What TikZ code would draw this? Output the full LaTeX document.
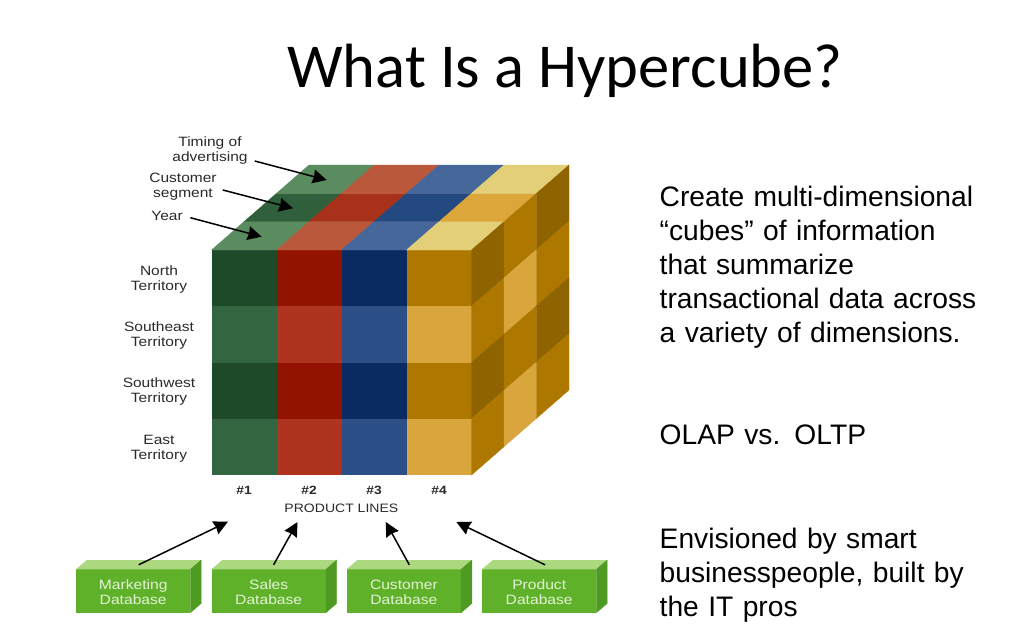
\documentclass[tikz,border=0pt]{standalone}
\usepackage{fontspec}
\setmainfont{Liberation Sans}
\newfontfamily\titlefont{Carlito}
\newfontfamily\labfont[FakeStretch=1.15]{Liberation Sans}
\newfontfamily\bodyfont[WordSpace=0.55]{Liberation Sans}
\usetikzlibrary{arrows.meta}
\definecolor{gF1}{HTML}{1E4A2A}\definecolor{gF2}{HTML}{336640}
\definecolor{rF1}{HTML}{921300}\definecolor{rF2}{HTML}{AE3420}
\definecolor{bF1}{HTML}{0A2A62}\definecolor{bF2}{HTML}{2C4F88}
\definecolor{yF1}{HTML}{AE7800}\definecolor{yF2}{HTML}{D9A63E}
\definecolor{gT1}{HTML}{5B8C5F}\definecolor{gT2}{HTML}{2F5F3B}
\definecolor{rT1}{HTML}{B9583A}\definecolor{rT2}{HTML}{A83219}
\definecolor{bT1}{HTML}{45679A}\definecolor{bT2}{HTML}{244880}
\definecolor{yT1}{HTML}{E2CF78}\definecolor{yT2}{HTML}{DCA63A}
\definecolor{sD}{HTML}{8F6300}\definecolor{sM}{HTML}{AE7800}\definecolor{sL}{HTML}{D9A63E}
\definecolor{dbF}{HTML}{5FB12A}\definecolor{dbT}{HTML}{ACD97F}\definecolor{dbS}{HTML}{4E9A22}
\definecolor{lab}{HTML}{2A2A2A}\definecolor{dbtxt}{HTML}{E3F2D6}
\tikzset{
  x=1pt,y=-1pt,
  cubelabel/.style={inner sep=0pt,align=center,text=lab,font=\labfont\fontsize{13.5}{15}\selectfont},
  axislabel/.style={inner sep=0pt,text=lab,font=\labfont\fontsize{12}{15}\selectfont},
  dbbox/.style={inner sep=0pt,minimum width=114.4pt,minimum height=43.4pt,align=center,text=dbtxt,font=\labfont\fontsize{13.6}{15}\selectfont},
  arrowline/.style={draw=black,line width=1.5pt,-{Stealth[length=14pt,width=14pt,inset=1pt]}},
  bodytext/.style={inner sep=0pt,anchor=north west,align=left,text width=350pt,text=black,font=\bodyfont\fontsize{28.2}{34.2}\selectfont},
}
\begin{document}
\begin{tikzpicture}
\useasboundingbox (0,0) rectangle (1024,640);
\fill[white] (0,0) rectangle (1024,640);
\node[inner sep=0pt,font=\titlefont\fontsize{62.5}{70}\selectfont] (title) at (565,71) {What Is a Hypercube?};
% front and top faces
\foreach \c [count=\i from 0] in {g,r,b,y}{
  \pgfmathsetmacro\xa{211.5+65*\i}
  \pgfmathsetmacro\xb{\xa+65.3}
  \foreach \rr/\sh [count=\j from 0] in {1/1,2/2,3/1,4/2}{
    \pgfmathsetmacro\ya{250+56.25*\j}
    \pgfmathsetmacro\yb{\ya+56.55}
    \fill[\c F\sh] (\xa,\ya) rectangle (\xb,\yb);
  }
  \foreach \sh [count=\j from 0] in {1,2,1}{
    \pgfmathsetmacro\fa{\j/3}
    \pgfmathsetmacro\fb{(\j+1)/3}
    \filldraw[fill=\c T\sh,draw=\c T\sh,line width=.3pt] (\xa+97.5*\fa,250-85*\fa) -- (\xa+65+97.5*\fa,250-85*\fa) -- (\xa+65+97.5*\fb,250-85*\fb) -- (\xa+97.5*\fb,250-85*\fb) -- cycle;
  }
}
% side face
\foreach \ca/\cb/\cc [count=\j from 0] in {sD/sM/sD,sM/sL/sM,sD/sM/sD,sM/sL/sM}{
  \pgfmathsetmacro\ya{250+56.25*\j}
  \pgfmathsetmacro\yb{\ya+56.25}
  \foreach \cl [count=\k from 0] in {\ca,\cb,\cc}{
    \pgfmathsetmacro\fa{\k/3}
    \pgfmathsetmacro\fb{(\k+1)/3}
    \filldraw[fill=\cl,draw=\cl,line width=.3pt] (471.5+97.5*\fa,\ya-85*\fa) -- (471.5+97.5*\fb,\ya-85*\fb) -- (471.5+97.5*\fb,\yb-85*\fb) -- (471.5+97.5*\fa,\yb-85*\fa) -- cycle;
  }
}
% cube labels
\node[cubelabel] (tim) at (210,150.5) {Timing of\\advertising};
\node[cubelabel] (cus) at (183,187) {Customer\\segment};
\node[cubelabel] (yea) at (167,216) {Year};
\node[cubelabel] (nor) at (159,279.5) {North\\Territory};
\node[cubelabel] (sou) at (159,336) {Southeast\\Territory};
\node[cubelabel] (swe) at (159,392) {Southwest\\Territory};
\node[cubelabel] (eas) at (159,448.5) {East\\Territory};
\node[axislabel] (p1) at (244,490) {\textbf{\#1}};
\node[axislabel] (p2) at (309,490) {\textbf{\#2}};
\node[axislabel] (p3) at (374,490) {\textbf{\#3}};
\node[axislabel] (p4) at (439,490) {\textbf{\#4}};
\node[axislabel,font=\labfont\fontsize{12.2}{15}\selectfont] (pl) at (341.4,508.5) {PRODUCT LINES};
% cube arrows
\coordinate (timT) at (326.7,180);
\coordinate (cusT) at (293,208.3);
\coordinate (yeaT) at (261.7,236.7);
\draw[arrowline] ([shift={(7,10.5)}]tim.east) -- (timT);
\draw[arrowline] ([shift={(6,3)}]cus.east) -- (cusT);
\draw[arrowline] ([shift={(7.5,1.7)}]yea.east) -- (yeaT);
% database boxes
\foreach \nm/\xx/\ta/\tb in {mkt/133.2/Marketing/Database,sal/268.7/Sales/Database,cst/403.9/Customer/Database,prd/539.2/Product/Database}{
  \fill[dbF] (\xx-57.2,569.3) rectangle (\xx+57.2,612.7);
  \fill[dbT] (\xx-57.2,569.3) -- (\xx-57.2+10.8,560) -- (\xx+57.2+10.8,560) -- (\xx+57.2,569.3) -- cycle;
  \filldraw[fill=dbS,draw=dbS,line width=.3pt] (\xx+57.2,569.3) -- (\xx+57.2+10.8,560) -- (\xx+57.2+10.8,603.4) -- (\xx+57.2,612.7) -- cycle;
  \node[dbbox] (\nm) at (\xx,592) {\ta\\\tb};
}
\coordinate (mktT) at (227.9,521.7);
\coordinate (salT) at (297.5,522);
\coordinate (cstT) at (385.7,522);
\coordinate (prdT) at (456.4,522);
\draw[arrowline] ([shift={(5.4,-5.3)}]mkt.north) -- (mktT);
\draw[arrowline] ([shift={(4.9,-5.3)}]sal.north) -- (salT);
\draw[arrowline] ([shift={(5.4,-5.3)}]cst.north) -- (cstT);
\draw[arrowline] ([shift={(5.8,-5.3)}]prd.north) -- (prdT);
% body text
\node[bodytext] (b1) at (659.5,185.5) {Create multi-dimensional\\“cubes” of information\\that summarize\\transactional data across\\a variety of dimensions.};
\node[bodytext] (b2) at (659.5,425) {OLAP vs. OLTP};
\node[bodytext] (b3) at (659.5,527.5) {Envisioned by smart\\businesspeople, built by\\the IT pros};
\end{tikzpicture}
\end{document}
